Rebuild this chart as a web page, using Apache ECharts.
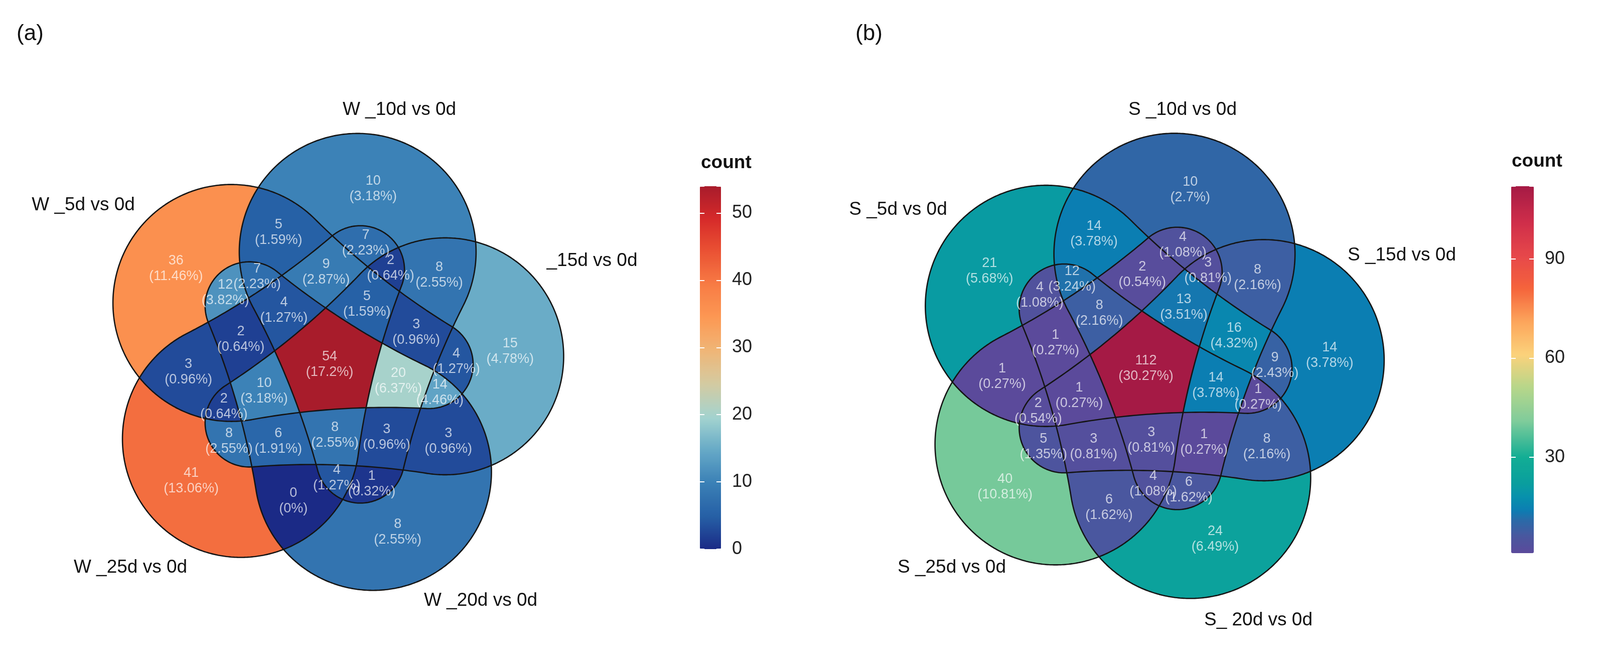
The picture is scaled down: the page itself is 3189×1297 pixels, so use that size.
<!DOCTYPE html>
<html>
<head>
<meta charset="utf-8">
<script src="https://cdn.jsdelivr.net/npm/echarts@6/dist/echarts.min.js"></script>
<style>html,body{margin:0;padding:0;background:#fff;}#chart{width:3189px;height:1297px;}</style>
</head>
<body>
<div id="chart"></div>
<script>
// ---------------- DATA ----------------
// Set keys: A = 5d, B = 10d, C = 15d, D = 20d, E = 25d
const regionSets = ['A','B','C','D','E',
  'AB','AC','AD','AE','BC','BD','BE','CD','CE','DE',
  'ABC','ABD','ABE','ACD','ACE','ADE','BCD','BCE','BDE','CDE',
  'ABCD','ABCE','ABDE','ACDE','BCDE','ABCDE'];
const countsW = [36,10,15,8,41,
  5,4,12,3,8,1,7,3,8,0,
  3,7,9,14,2,2,3,2,4,6,
  20,5,4,10,8,54];
const countsS = [21,10,14,24,40,
  14,9,4,1,8,6,4,8,5,6,
  16,12,2,1,2,1,1,3,4,3,
  14,13,8,1,3,112];
const setLabelsW = ['W _5d vs 0d','W _10d vs 0d','_15d vs 0d','W _20d vs 0d','W _25d vs 0d'];
const setLabelsS = ['S _5d vs 0d','S _10d vs 0d','S _15d vs 0d','S_ 20d vs 0d','S _25d vs 0d'];
const panelTitles = ['(a)','(b)'];
const legendTitle = 'count';
const ticksW = [0,10,20,30,40,50];
const ticksS = [30,60,90];
const rangeW = [0,54];
const rangeS = [1,112];

// ---------------- STYLE / LAYOUT ----------------
const stopsW = [[0,'#1b2a86'],[4.9,'#2660a6'],[9.8,'#3a80b6'],[14.7,'#66a9c7'],[19.6,'#a3d3cf'],[24.5,'#d3cba2'],
  [29.5,'#f0b677'],[34.4,'#fc9954'],[39.3,'#f87c45'],[44.2,'#ea5334'],[49.1,'#d62a2a'],[54,'#a81c2b']];
const stopsS = [[1,'#5b4a9b'],[6,'#4a579f'],[11,'#2a6aa8'],[14,'#0b7eb2'],[18,'#0790ac'],[22,'#0a9e9e'],
  [30,'#12ad94'],[41,'#80cc9b'],[51,'#b6d68a'],[61,'#fbd27b'],[71,'#fca55c'],[81,'#f5643c'],
  [91,'#e6474a'],[101,'#cf2e4a'],[112,'#a51a45']];
const FONT = '"Liberation Sans", Arial, Helvetica, sans-serif';
// shape geometry (one petal-shaped set, rotated 72 deg per set), in px
const GEO = {bigDist:231, bigR:236, smallDist:198, smallR:88, fillet:1500, firstAngle:148, step:-72, tailOffset:-148};
const PANELS = [
  {cx:657, cy:726, s:1.0,
   setPos:[[166,409],[796,219],[1180,520],[958,1197],[260,1131]],
   titlePos:[60,68],
   legend:{left:1395, top:371, width:42, height:723, titleX:1397, titleY:325}},
  {cx:2284, cy:734, s:1.018,
   setPos:[[1790,418],[2357,219],[2794,509],[2508,1236],[1897,1131]],
   titlePos:[1732,68],
   legend:{left:3012, top:371, width:45, height:731, titleX:3013, titleY:322}}
];

// ---------------- COLOUR RAMP ----------------
function hex2rgb(h){ return [parseInt(h.slice(1,3),16), parseInt(h.slice(3,5),16), parseInt(h.slice(5,7),16)]; }
function rgb2hex(c){ return '#' + c.map(v => Math.round(v).toString(16).padStart(2,'0')).join(''); }
function rampFromStops(stops, min, max, n){
  const out = [];
  for (let i = 0; i < n; i++){
    const v = min + (max - min) * i / (n - 1);
    let j = 0;
    while (j < stops.length - 2 && v > stops[j+1][0]) j++;
    const a = stops[j], b = stops[j+1];
    const t = Math.max(0, Math.min(1, (v - a[0]) / (b[0] - a[0])));
    const ca = hex2rgb(a[1]), cb = hex2rgb(b[1]);
    out.push(rgb2hex(ca.map((x, k) => x + (cb[k] - x) * t)));
  }
  return out;
}
const paletteW = rampFromStops(stopsW, rangeW[0], rangeW[1], 109);
const paletteS = rampFromStops(stopsS, rangeS[0], rangeS[1], 112);

// ---------------- GEOMETRY ----------------
const KEYS = 'ABCDE';
const maskOf = s => [...s].reduce((m, ch) => m | (1 << KEYS.indexOf(ch)), 0);
const maskToRegion = {};
regionSets.forEach((s, i) => { maskToRegion[maskOf(s)] = i; });

function normA(t){ while (t > Math.PI) t -= 2*Math.PI; while (t <= -Math.PI) t += 2*Math.PI; return t; }
function buildOutline(k, panel){
  const tb = (GEO.firstAngle + GEO.step*k) * Math.PI/180;
  const ts = tb + GEO.tailOffset * Math.PI/180;
  const Pb = [GEO.bigDist*Math.cos(tb), GEO.bigDist*Math.sin(tb)];
  const Ps = [GEO.smallDist*Math.cos(ts), GEO.smallDist*Math.sin(ts)];
  const R = GEO.bigR, r = GEO.smallR, F = GEO.fillet;
  const dx = Pb[0]-Ps[0], dy = Pb[1]-Ps[1], D = Math.hypot(dx, dy);
  const u = [dx/D, dy/D], n = [-u[1], u[0]];
  const a = (D*D + (r+F)*(r+F) - (R+F)*(R+F)) / (2*D);
  const h = Math.sqrt((r+F)*(r+F) - a*a);
  const Qp = [Ps[0]+a*u[0]+h*n[0], Ps[1]+a*u[1]+h*n[1]];
  const Qm = [Ps[0]+a*u[0]-h*n[0], Ps[1]+a*u[1]-h*n[1]];
  const ang = v => Math.atan2(v[1], v[0]);
  const angU = ang(u);
  const bP = normA(ang([Qp[0]-Pb[0], Qp[1]-Pb[1]]) - angU);
  const bM = normA(ang([Qm[0]-Pb[0], Qm[1]-Pb[1]]) - angU);
  const sP = normA(ang([Qp[0]-Ps[0], Qp[1]-Ps[1]]) - angU);
  const sM = normA(ang([Qm[0]-Ps[0], Qm[1]-Ps[1]]) - angU);
  const pts = [];
  const NB = 300, NS = 160, NF = 40;
  for (let i = 0; i <= NB; i++){ const t = angU + bP + (bM - bP)*i/NB; pts.push([Pb[0]+R*Math.cos(t), Pb[1]+R*Math.sin(t)]); }
  let f1 = ang([Pb[0]-Qm[0], Pb[1]-Qm[1]]), f2 = ang([Ps[0]-Qm[0], Ps[1]-Qm[1]]), df = normA(f2-f1);
  for (let i = 1; i < NF; i++){ const t = f1 + df*i/NF; pts.push([Qm[0]+F*Math.cos(t), Qm[1]+F*Math.sin(t)]); }
  let sEnd = sP; while (sEnd > sM) sEnd -= 2*Math.PI;
  for (let i = 0; i <= NS; i++){ const t = angU + sM + (sEnd - sM)*i/NS; pts.push([Ps[0]+r*Math.cos(t), Ps[1]+r*Math.sin(t)]); }
  let g1 = ang([Ps[0]-Qp[0], Ps[1]-Qp[1]]), g2 = ang([Pb[0]-Qp[0], Pb[1]-Qp[1]]), dg = normA(g2-g1);
  for (let i = 1; i < NF; i++){ const t = g1 + dg*i/NF; pts.push([Qp[0]+F*Math.cos(t), Qp[1]+F*Math.sin(t)]); }
  return pts.map(p => [panel.cx + panel.s*p[0], panel.cy - panel.s*p[1]]);
}

function scanPanel(panel, counts){
  const polys = [0,1,2,3,4].map(k => buildOutline(k, panel));
  let minY = Infinity, maxY = -Infinity;
  polys.forEach(p => p.forEach(q => { if (q[1] < minY) minY = q[1]; if (q[1] > maxY) maxY = q[1]; }));
  const rects = [], acc = {};
  for (let y = Math.floor(minY); y <= Math.ceil(maxY); y++){
    const y0 = y + 0.5;
    const ivs = polys.map(poly => {
      const xs = [];
      for (let i = 0; i < poly.length; i++){
        const p1 = poly[i], p2 = poly[(i+1) % poly.length];
        if ((p1[1] <= y0 && p2[1] > y0) || (p2[1] <= y0 && p1[1] > y0)){
          xs.push(p1[0] + (y0 - p1[1]) * (p2[0]-p1[0]) / (p2[1]-p1[1]));
        }
      }
      return xs.sort((a, b) => a - b);
    });
    const bps = [].concat(...ivs).sort((a, b) => a - b);
    for (let i = 0; i + 1 < bps.length; i++){
      const a = bps[i], b = bps[i+1];
      if (b - a < 1e-6) continue;
      const m = (a + b) / 2;
      let mask = 0;
      ivs.forEach((xs, k) => {
        for (let j = 0; j + 1 < xs.length; j += 2){ if (m > xs[j] && m < xs[j+1]){ mask |= (1 << k); break; } }
      });
      if (!mask) continue;
      const ri = maskToRegion[mask];
      rects.push([a, b, y, counts[ri], ri]);
      const w = b - a;
      if (!acc[ri]) acc[ri] = [0, 0, 0];
      acc[ri][0] += w; acc[ri][1] += w*m; acc[ri][2] += w*y0;
    }
  }
  return {polys, rects, acc};
}

function pctText(v, total){ return (Math.round(v / total * 10000) / 100) + '%'; }
function labelData(res, counts){
  const total = counts.reduce((s, v) => s + v, 0);
  const out = [];
  regionSets.forEach((s, ri) => {
    const a = res.acc[ri];
    if (!a || a[0] <= 0) return;
    out.push({value:[a[1]/a[0], a[2]/a[0]], t: counts[ri] + '\n(' + pctText(counts[ri], total) + ')'});
  });
  return out;
}

const resW = scanPanel(PANELS[0], countsW);
const resS = scanPanel(PANELS[1], countsS);

// ---------------- CHART ----------------
const chart = echarts.init(document.getElementById('chart'), null, {renderer:'canvas'});

function fillSeries(res){
  return {
    type:'custom', xAxisIndex:0, yAxisIndex:0, silent:true, animation:false, z:1,
    data: res.rects,
    renderItem: function(params, api){
      const p1 = api.coord([api.value(0), api.value(2)]);
      const p2 = api.coord([api.value(1), api.value(2) + 1]);
      const x = Math.min(p1[0], p2[0]), y = Math.min(p1[1], p2[1]);
      return {type:'rect', shape:{x:x - 0.4, y:y, width:Math.abs(p2[0]-p1[0]) + 0.8, height:Math.abs(p2[1]-p1[1])},
              style:{fill: api.visual('color')}};
    }
  };
}
function outlineSeries(res){
  return res.polys.map(poly => ({
    type:'line', xAxisIndex:0, yAxisIndex:0, silent:true, animation:false, z:3,
    data: poly.concat([poly[0]]), symbol:'none', showSymbol:false,
    lineStyle:{color:'#141414', width:2.6}
  }));
}
function labelSeries(res, counts){
  return {
    type:'scatter', xAxisIndex:0, yAxisIndex:0, silent:true, animation:false, z:5,
    symbol:'circle', symbolSize:1, itemStyle:{color:'rgba(0,0,0,0)'},
    data: labelData(res, counts),
    label:{show:true, position:'inside', formatter: p => p.data.t,
           color:'rgba(255,255,255,0.86)', fontSize:27, lineHeight:31, fontFamily:FONT}
  };
}

const graphics = [];
[[PANELS[0], setLabelsW], [PANELS[1], setLabelsS]].forEach(([pn, labels], pi) => {
  labels.forEach((txt, k) => {
    graphics.push({type:'text', x:pn.setPos[k][0], y:pn.setPos[k][1], silent:true,
      style:{text:txt, fontSize:37, fontFamily:FONT, fill:'#111', align:'center', verticalAlign:'middle'}});
  });
  graphics.push({type:'text', x:pn.titlePos[0], y:pn.titlePos[1], silent:true,
    style:{text:panelTitles[pi], fontSize:44, fontFamily:FONT, fill:'#111', align:'center', verticalAlign:'middle'}});
  graphics.push({type:'text', x:pn.legend.titleX, y:pn.legend.titleY, silent:true,
    style:{text:legendTitle, fontSize:37, fontWeight:'bold', fontFamily:FONT, fill:'#111', align:'left', verticalAlign:'middle'}});
});

const LW = PANELS[0].legend, LS = PANELS[1].legend;
const gridSHeight = LS.height * (rangeS[1] - 0) / (rangeS[1] - rangeS[0]);

function legendAxes(gridIndex, max, interval, ticks){
  const tick = {show:true, inside:true, length:9, lineStyle:{color:'#ffffff', width:2}};
  return [
    {gridIndex, type:'value', min:0, max, interval, position:'left', z:10,
     axisLine:{show:false}, splitLine:{show:false}, axisLabel:{show:false}, axisTick:tick},
    {gridIndex, type:'value', min:0, max, interval, position:'right', z:10,
     axisLine:{show:false}, splitLine:{show:false}, axisTick:tick,
     axisLabel:{show:true, margin:22, fontSize:36, fontFamily:FONT, color:'#222',
                formatter: v => ticks.indexOf(v) >= 0 ? String(v) : ''}}
  ];
}

const option = {
  backgroundColor:'#ffffff',
  animation:false,
  grid:[
    {left:0, top:0, width:3189, height:1297, show:false},
    {left:LW.left, top:LW.top, width:LW.width, height:LW.height, show:false},
    {left:LS.left, top:LS.top, width:LS.width, height:gridSHeight, show:false}
  ],
  xAxis:[
    {gridIndex:0, type:'value', min:0, max:3189, show:false},
    {gridIndex:1, type:'value', min:0, max:1, show:false},
    {gridIndex:2, type:'value', min:0, max:1, show:false}
  ],
  yAxis:[
    {gridIndex:0, type:'value', min:0, max:1297, inverse:true, show:false}
  ].concat(legendAxes(1, rangeW[1], 10, ticksW)).concat(legendAxes(2, rangeS[1], 30, ticksS)),
  visualMap:[
    {type:'continuous', seriesIndex:0, dimension:3, min:rangeW[0], max:rangeW[1],
     left:LW.left, top:LW.top, itemWidth:LW.width, itemHeight:LW.height, padding:0,
     calculable:false, realtime:false, hoverLink:false, text:null, showLabel:false,
     inRange:{color:paletteW}},
    {type:'continuous', seriesIndex:1, dimension:3, min:rangeS[0], max:rangeS[1],
     left:LS.left, top:LS.top, itemWidth:LS.width, itemHeight:LS.height, padding:0,
     calculable:false, realtime:false, hoverLink:false, text:null, showLabel:false,
     inRange:{color:paletteS}}
  ],
  graphic: graphics,
  series: [fillSeries(resW), fillSeries(resS)]
    .concat(outlineSeries(resW)).concat(outlineSeries(resS))
    .concat([labelSeries(resW, countsW), labelSeries(resS, countsS)])
};
chart.setOption(option);
</script>
</body>
</html>
